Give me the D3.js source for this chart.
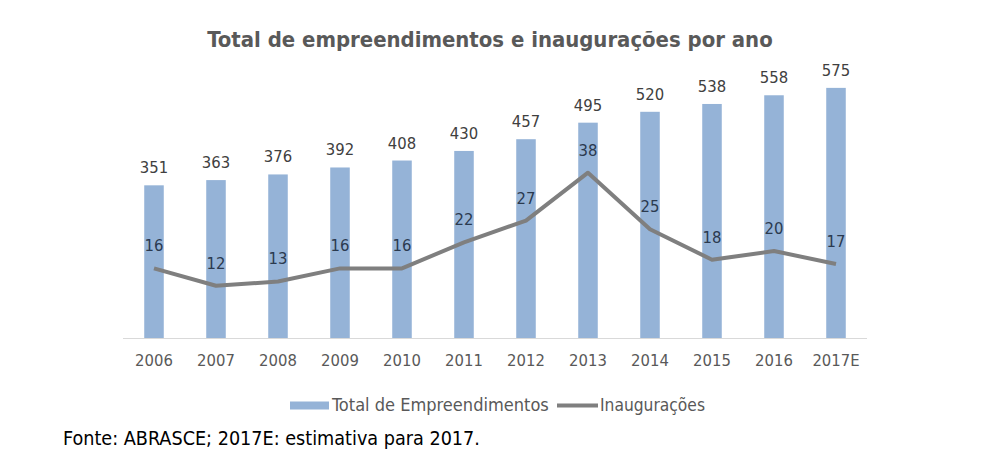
<!DOCTYPE html>
<html><head><meta charset="utf-8">
<script src="https://cdn.jsdelivr.net/npm/d3@7"></script>
<style>body{margin:0;background:#fff}svg{display:block}text{font-family:"DejaVu Sans Condensed","DejaVu Sans",sans-serif}</style>
</head><body><svg id="c" width="989" height="455"></svg>
<script>
const categories = ["2006","2007","2008","2009","2010","2011","2012","2013","2014","2015","2016","2017E"];
const totalEmpreendimentos = [351,363,376,392,408,430,457,495,520,538,558,575];
const inauguracoes = [16,12,13,16,16,22,27,38,25,18,20,17];
const title = "Total de empreendimentos e inaugurações por ano";
const seriesNames = ["Total de Empreendimentos","Inaugurações"];
const footnote = "Fonte: ABRASCE; 2017E: estimativa para 2017.";

const svg = d3.select("#c");
const x = d3.scaleBand().domain(categories).range([123,867]).paddingInner(0.685).paddingOuter(0.3425);
const y = d3.scaleLinear().domain([0,700]).range([338,33.5]);
const y2 = d3.scaleLinear().domain([0,70]).range([338,33.5]);

function fit(sel, w){ const n=sel.node(); const l=n.getComputedTextLength(); const fs=parseFloat(sel.attr("font-size")); sel.attr("font-size", fs*w/l); }

// title
const t = svg.append("text").attr("x",490).attr("y",47).attr("text-anchor","middle")
  .attr("font-size",22).attr("font-weight","bold").attr("fill","#595959").text(title);
fit(t,566);

// bars
svg.append("g").selectAll("rect").data(categories).join("rect")
  .attr("x",d=>x(d)).attr("width",x.bandwidth())
  .attr("y",(d,i)=>y(totalEmpreendimentos[i])).attr("height",(d,i)=>y(0)-y(totalEmpreendimentos[i]))
  .attr("fill","#95b3d7");

// axis
const ax = svg.append("g").attr("transform","translate(0,338)")
  .call(d3.axisBottom(x).tickSize(0).tickPadding(14));
ax.select(".domain").attr("stroke","#d9d9d9").attr("d","M123,0.5H867");
ax.selectAll("text").attr("font-size",16.5).attr("fill","#595959").attr("font-family",null).attr("dy",null).attr("y",28);

// bar labels
svg.append("g").selectAll("text").data(categories).join("text")
  .attr("x",d=>x(d)+x.bandwidth()/2).attr("y",(d,i)=>y(totalEmpreendimentos[i])-12)
  .attr("text-anchor","middle").attr("font-size",16.5).attr("fill","#404040")
  .text((d,i)=>totalEmpreendimentos[i]);

// line
const line = d3.line().x(d=>x(d[0])+x.bandwidth()/2).y(d=>y2(d[1]));
svg.append("path").datum(categories.map((c,i)=>[c,inauguracoes[i]]))
  .attr("d",line).attr("fill","none").attr("stroke","#7f7f7f").attr("stroke-width",4).attr("stroke-linejoin","round");

svg.append("g").selectAll("text").data(categories).join("text")
  .attr("x",d=>x(d)+x.bandwidth()/2).attr("y",(d,i)=>y2(inauguracoes[i])-17)
  .attr("text-anchor","middle").attr("font-size",16.5).attr("fill","#2b3a4f")
  .text((d,i)=>inauguracoes[i]);

// legend
const lg = svg.append("g");
lg.append("rect").attr("x",290).attr("y",401.5).attr("width",39).attr("height",8).attr("fill","#95b3d7");
const l1 = lg.append("text").attr("x",332).attr("y",411).attr("font-size",16).attr("fill","#595959").text(seriesNames[0]);
fit(l1,217);
lg.append("line").attr("x1",557).attr("x2",598).attr("y1",405.5).attr("y2",405.5).attr("stroke","#7f7f7f").attr("stroke-width",4);
const l2 = lg.append("text").attr("x",600).attr("y",411).attr("font-size",16).attr("fill","#595959").text(seriesNames[1]);
fit(l2,105);

// footnote
const fn = svg.append("text").attr("x",63).attr("y",445).attr("font-size",17).attr("fill","#000").text(footnote);
fit(fn,417);
</script></body></html>
